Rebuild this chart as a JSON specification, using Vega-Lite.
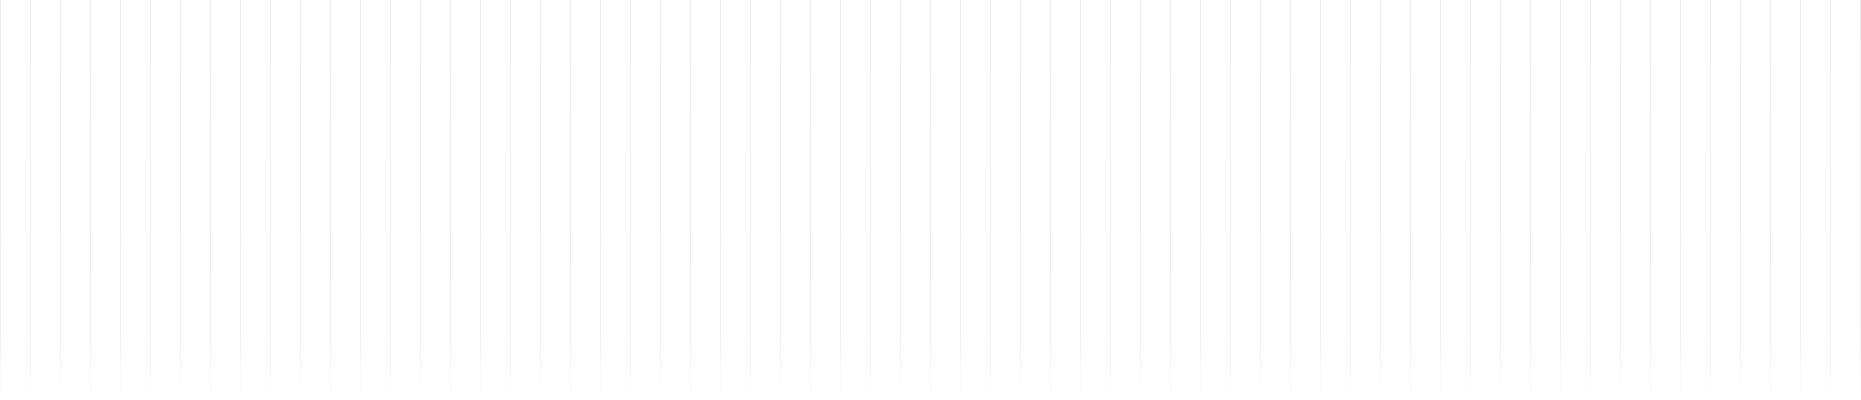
{
  "$schema": "https://vega.github.io/schema/vega-lite/v6.json",
  "width": 1861,
  "height": 400,
  "autosize": {"type": "fit", "contains": "padding"},
  "padding": 0,
  "background": "white",
  "view": {"stroke": null},
  "data": {
    "values": [
      {"i": 0}, {"i": 1}, {"i": 2}, {"i": 3}, {"i": 4}, {"i": 5}, {"i": 6}, {"i": 7},
      {"i": 8}, {"i": 9}, {"i": 10}, {"i": 11}, {"i": 12}, {"i": 13}, {"i": 14}, {"i": 15},
      {"i": 16}, {"i": 17}, {"i": 18}, {"i": 19}, {"i": 20}, {"i": 21}, {"i": 22}, {"i": 23},
      {"i": 24}, {"i": 25}, {"i": 26}, {"i": 27}, {"i": 28}, {"i": 29}, {"i": 30}, {"i": 31},
      {"i": 32}, {"i": 33}, {"i": 34}, {"i": 35}, {"i": 36}, {"i": 37}, {"i": 38}, {"i": 39},
      {"i": 40}, {"i": 41}, {"i": 42}, {"i": 43}, {"i": 44}, {"i": 45}, {"i": 46}, {"i": 47},
      {"i": 48}, {"i": 49}, {"i": 50}, {"i": 51}, {"i": 52}, {"i": 53}, {"i": 54}, {"i": 55},
      {"i": 56}, {"i": 57}, {"i": 58}, {"i": 59}, {"i": 60}, {"i": 61}, {"i": 62}
    ]
  },
  "mark": {
    "type": "bar",
    "orient": "vertical",
    "width": 1,
    "fill": {
      "gradient": "linear",
      "x1": 0, "y1": 0, "x2": 0, "y2": 1,
      "stops": [
        {"offset": 0, "color": "#ececec"},
        {"offset": 0.85, "color": "#f0f0f0"},
        {"offset": 1, "color": "#fcfcfc"}
      ]
    }
  },
  "encoding": {
    "x": {
      "field": "i",
      "type": "quantitative",
      "scale": {"domain": [0, 62], "range": [0.5, 1860.5], "nice": false, "zero": false, "padding": 0},
      "axis": null
    },
    "y": {
      "datum": 1,
      "type": "quantitative",
      "scale": {"domain": [0, 1], "range": [392, 0], "nice": false},
      "axis": null
    }
  }
}
